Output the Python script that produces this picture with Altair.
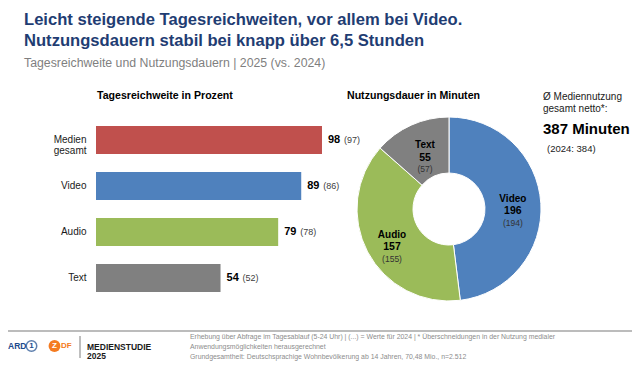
import altair as alt
import pandas as pd

# ---------------- data ----------------
title_lines = ["Leicht steigende Tagesreichweiten, vor allem bei Video.",
               "Nutzungsdauern stabil bei knapp über 6,5 Stunden"]
subtitle = "Tagesreichweite und Nutzungsdauern | 2025 (vs. 2024)"
bar_title = "Tagesreichweite in Prozent"
pie_title = "Nutzungsdauer in Minuten"

bar_categories = ["Medien\ngesamt", "Video", "Audio", "Text"]
reach_2025 = [98, 89, 79, 54]
reach_2024 = [97, 86, 78, 52]
bar_colors = ["#C0504D", "#4F81BD", "#9BBB59", "#808080"]

pie_categories = ["Video", "Audio", "Text"]
minutes_2025 = [196, 157, 55]
minutes_2024 = [194, 155, 57]
pie_colors = ["#4F81BD", "#9BBB59", "#808080"]

total_lines = ["Ø Mediennutzung", "gesamt netto*:"]
total_value = "387 Minuten"
total_prev = "(2024: 384)"

footer_lines = [
    "Erhebung über Abfrage im Tagesablauf (5-24 Uhr) | (...) = Werte für 2024 | * Überschneidungen in der Nutzung medialer",
    "Anwendungsmöglichkeiten herausgerechnet",
    "Grundgesamtheit: Deutschsprachige Wohnbevölkerung ab 14 Jahren, 70,48 Mio., n=2.512",
]
brand_lines = ["MEDIENSTUDIE", "2025"]
logo_texts = ["ARD", "1", "Z", "DF"]

# ---------------- layout helpers ----------------
OX, OY = 8, 8
W, H = 624, 353
FONT = "Liberation Sans"


def px(x):
    return x - OX


def py(y):
    return y - OY


def label(s, x, y, size, weight="normal", color="#000000", font=FONT,
          align="left", baseline="middle"):
    return alt.Chart(alt.Data(values=[{}])).mark_text(
        text=s, fontSize=size, fontWeight=weight, color=color, font=font,
        align=align, baseline=baseline
    ).encode(x=alt.value(px(x)), y=alt.value(py(y)))


layers = []

# ---------------- titles ----------------
TITLE_COLOR = "#1F3D73"
layers.append(label(title_lines[0], 24, 20, 16.6, "bold", TITLE_COLOR))
layers.append(label(title_lines[1], 24, 41, 16.6, "bold", TITLE_COLOR))
layers.append(label(subtitle, 24, 63, 12.3, "normal", "#7F7F7F"))
layers.append(label(bar_title, 97, 96, 10.6, "bold"))
layers.append(label(pie_title, 347, 96, 10.6, "bold"))

# ---------------- bars ----------------
bars_df = pd.DataFrame({"cat": bar_categories, "v": reach_2025, "p": reach_2024})
xs = alt.Scale(domain=[0, 100], range=[px(96), px(326.6)])
ys = alt.Scale(domain=bar_categories, range=[py(117), py(301)],
               paddingInner=0.39, paddingOuter=0.195)
y_axis = alt.Axis(labels=False, title=None, tickBand="extent", tickSize=4,
                  domainColor="#BFBFBF", tickColor="#BFBFBF", offset=3, grid=False)

bar_base = alt.Chart(bars_df)
layers.append(bar_base.mark_bar().encode(
    x=alt.X("v:Q", scale=xs, axis=None),
    y=alt.Y("cat:N", scale=ys, axis=y_axis),
    color=alt.Color("cat:N", scale=alt.Scale(domain=bar_categories, range=bar_colors), legend=None),
))
layers.append(bar_base.mark_text(align="right", baseline="middle", lineBreak="\n",
                                 fontSize=10, lineHeight=11, font=FONT, color="#1A1A1A").encode(
    x=alt.value(px(86.5)),
    y=alt.Y("cat:N", scale=ys, axis=y_axis),
    text="cat:N",
))
layers.append(bar_base.mark_text(align="left", baseline="middle", dx=6, fontSize=11,
                                 fontWeight="bold", font=FONT, color="#000000").encode(
    x=alt.X("v:Q", scale=xs, axis=None),
    y=alt.Y("cat:N", scale=ys, axis=y_axis),
    text="v:Q",
))
layers.append(bar_base.transform_calculate(prev="'(' + datum.p + ')'").mark_text(
    align="left", baseline="middle", dx=22, fontSize=9, font=FONT, color="#404040").encode(
    x=alt.X("v:Q", scale=xs, axis=None),
    y=alt.Y("cat:N", scale=ys, axis=y_axis),
    text="prev:N",
))

# ---------------- donut ----------------
CX, CY = 449, 209
pie_df = pd.DataFrame({"cat": pie_categories, "m": minutes_2025, "p": minutes_2024,
                       "ord": list(range(len(pie_categories)))})
theta_scale = alt.Scale(domain=[0, sum(minutes_2025)])
layers.append(alt.Chart(pie_df).mark_arc(outerRadius=92, innerRadius=36,
                                         stroke="white", strokeWidth=1).encode(
    theta=alt.Theta("m:Q", stack=True, scale=theta_scale),
    order=alt.Order("ord:Q"),
    color=alt.Color("cat:N", scale=alt.Scale(domain=pie_categories, range=pie_colors), legend=None),
    x=alt.value(px(CX)), y=alt.value(py(CY)),
))

pie_base = alt.Chart(pie_df).transform_window(
    cum="sum(m)", sort=[alt.SortField("ord")], frame=[None, 0]
).transform_calculate(mid="datum.cum - datum.m / 2", prev="'(' + datum.p + ')'")
label_pos = {"Video": (64, 6), "Audio": (64.4, 8), "Text": (58.4, 2)}
for c in pie_categories:
    r, d = label_pos[c]
    b = pie_base.transform_filter(alt.datum.cat == c)
    enc = dict(theta=alt.Theta("mid:Q", stack=False, scale=theta_scale),
               radius=alt.value(r), x=alt.value(px(CX)), y=alt.value(py(CY)))
    layers.append(b.mark_text(fontWeight="bold", fontSize=10, font=FONT, baseline="middle",
                              color="#000000", dy=d - 12.5).encode(text="cat:N", **enc))
    layers.append(b.mark_text(fontWeight="bold", fontSize=10.5, font=FONT, baseline="middle",
                              color="#000000", dy=d).encode(text="m:Q", **enc))
    layers.append(b.mark_text(fontSize=8.5, font=FONT, baseline="middle",
                              color="#333333", dy=d + 11.5).encode(text="prev:N", **enc))

# ---------------- total box ----------------
layers.append(label(total_lines[0], 543, 97, 10, "normal", "#1A1A1A"))
layers.append(label(total_lines[1], 543, 109, 10, "normal", "#1A1A1A"))
layers.append(label(total_value, 543, 129, 15, "bold", "#000000"))
layers.append(label(total_prev, 547, 149, 9.5, "normal", "#1A1A1A"))

# ---------------- footer ----------------
one = alt.Data(values=[{}])
layers.append(alt.Chart(one).mark_rule(color="#A6A6A6", strokeWidth=1.5).encode(
    x=alt.value(0), x2=alt.value(W), y=alt.value(py(331))))
layers.append(alt.Chart(one).mark_rule(color="#7F7F7F", strokeWidth=1).encode(
    x=alt.value(px(80)), y=alt.value(py(336)), y2=alt.value(py(358))))
for i, s in enumerate(footer_lines):
    layers.append(label(s, 190, 337 + i * 10, 6.9, "normal", "#8C8C8C"))
layers.append(label(brand_lines[0], 87, 347, 8.5, "bold", "#1A1A1A"))
layers.append(label(brand_lines[1], 87, 356, 8.5, "bold", "#1A1A1A"))

ARD_BLUE = "#1B4A8C"
ZDF_ORANGE = "#F47B20"
layers.append(label(logo_texts[0], 8, 346, 8.5, "bold", ARD_BLUE))
layers.append(alt.Chart(one).mark_point(shape="circle", filled=False, color=ARD_BLUE,
                                        strokeWidth=1.5, size=110).encode(
    x=alt.value(px(31.5)), y=alt.value(py(346))))
layers.append(label(logo_texts[1], 31.5, 346, 8, "bold", ARD_BLUE, align="center"))
layers.append(alt.Chart(one).mark_circle(color=ZDF_ORANGE, opacity=1, size=140).encode(
    x=alt.value(px(54.5)), y=alt.value(py(346))))
layers.append(label(logo_texts[2], 54.5, 346, 8, "bold", "white", align="center"))
layers.append(label(logo_texts[3], 61, 346, 8, "bold", ZDF_ORANGE))

chart = alt.layer(*layers).resolve_scale(color="independent").properties(
    width=W, height=H, padding=0, autosize=alt.AutoSizeParams(type="none"),
    background="white",
).configure_view(stroke="transparent")

chart.save("out.html", embed_options={"renderer": "svg", "actions": False})
